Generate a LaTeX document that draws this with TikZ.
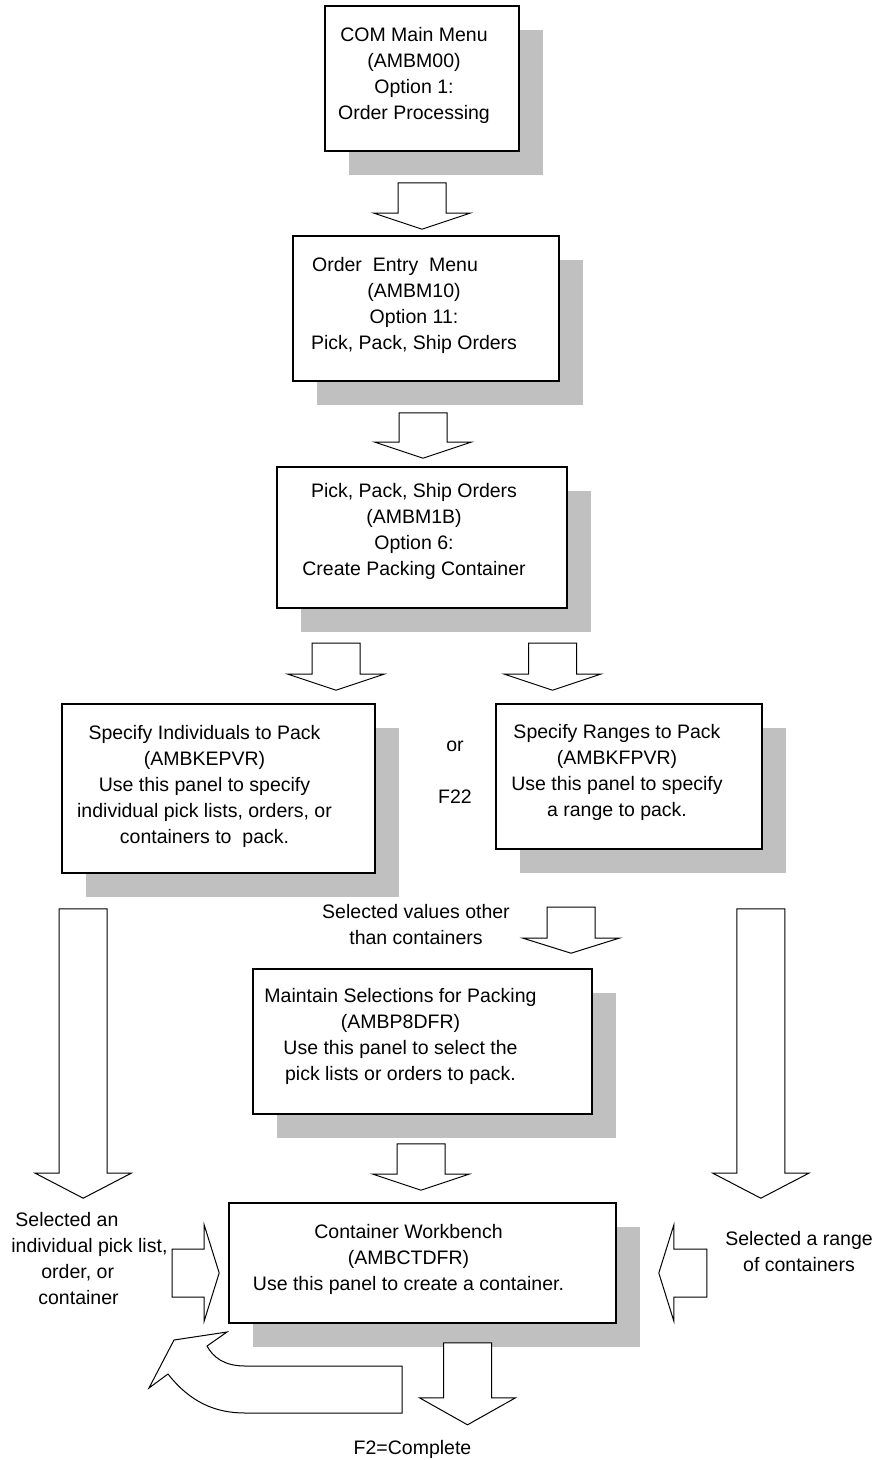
\documentclass[tikz,border=0pt]{standalone}
\usepackage{fontspec}
\setmainfont{Liberation Sans}
\usetikzlibrary{calc,shadows}
\definecolor{shadowgray}{RGB}{192,192,192}

\begin{document}
\begin{tikzpicture}[
        x=0.5pt, y=-0.5pt,
        font=\fontsize{9.75pt}{13pt}\selectfont,
        panel/.style={rectangle, draw, line width=0.8pt, fill=white,
          drop shadow={shadow xshift=12pt, shadow yshift=-12pt, fill=shadowgray, opacity=1}},
        note/.style={inner sep=0pt, align=center},
        blockarrow/.style={draw, fill=white, line width=0.5pt, to path={
          ($(\tikztostart)!12pt!90:(\tikztotarget)$)
          -- ($($(\tikztotarget)!#1!(\tikztostart)$)!12pt!90:(\tikztotarget)$)
          -- ($($(\tikztotarget)!#1!(\tikztostart)$)!24pt!90:(\tikztotarget)$)
          -- (\tikztotarget)
          -- ($($(\tikztotarget)!#1!(\tikztostart)$)!24pt!-90:(\tikztotarget)$)
          -- ($($(\tikztotarget)!#1!(\tikztostart)$)!12pt!-90:(\tikztotarget)$)
          -- ($(\tikztostart)!12pt!-90:(\tikztotarget)$)
          -- cycle}},
        blockarrow/.default=8pt,
      ]
      \useasboundingbox (0,0) rectangle (882,1460);

      % panels
      \node[panel, minimum width=97pt, minimum height=72.5pt] (menu) at (422,78.5)
        {\begin{tabular}{@{}c@{}}COM Main Menu\\(AMBM00)\\Option 1:\\Order Processing\\[3pt]\end{tabular}\hspace*{8pt}};
      \node[panel, minimum width=133pt, minimum height=72.5pt] (entry) at (426,308.5)
        {\begin{tabular}{@{}c@{}}Order\ \ Entry\ \ Menu\hspace*{19pt}\\(AMBM10)\\Option 11:\\Pick, Pack, Ship Orders\\[3pt]\end{tabular}\hspace*{12pt}};
      \node[panel, minimum width=145pt, minimum height=70.5pt] (pps) at (422,537.5)
        {\begin{tabular}{@{}c@{}}Pick, Pack, Ship Orders\\(AMBM1B)\\Option 6:\\Create Packing Container\\[6pt]\end{tabular}\hspace*{8pt}};
      \node[panel, minimum width=156.5pt, minimum height=84.5pt] (indiv) at (218.5,788.5)
        {\begin{tabular}{@{}c@{}}Specify Individuals to Pack\\(AMBKEPVR)\\Use this panel to specify\\individual pick lists, orders, or\\containers to\ \ pack.\\[2pt]\end{tabular}\hspace*{14pt}};
      \node[panel, minimum width=133pt, minimum height=72.5pt] (ranges) at (629,776.5)
        {\begin{tabular}{@{}c@{}}Specify Ranges to Pack\\(AMBKFPVR)\\Use this panel to specify\\a range to pack.\\[4pt]\end{tabular}\hspace*{12pt}};
      \node[panel, minimum width=169.5pt, minimum height=72.5pt] (select) at (422.5,1041.5)
        {\begin{tabular}{@{}c@{}}Maintain Selections for Packing\\(AMBP8DFR)\\Use this panel to select the\\pick lists or orders to pack.\\[5pt]\end{tabular}\hspace*{22pt}};
      \node[panel, minimum width=193.5pt, minimum height=60pt] (bench) at (422.5,1263)
        {\begin{tabular}{@{}c@{}}Container Workbench\\(AMBCTDFR)\\Use this panel to create a container.\\[4pt]\end{tabular}\hspace*{14pt}};

      % labels
      \node[note] (or) at (455,746) {or};
      \node[note] (f22) at (455,797) {F22};
      \node[note] (values) at (416,925) {Selected values other\\than containers};
      \node[note, anchor=west, align=left] (pickone) at (11,1258.5)
        {\hspace*{2pt}Selected an\\individual pick list,\\\hspace*{15pt}order, or\\\hspace*{13.5pt}container};
      \node[note] (pickrange) at (799,1252) {Selected a range\\of containers};
      \node[note] (complete) at (412.5,1449) {F2=Complete};

      % block arrows
      \draw[blockarrow] ($(menu.south)+(0,31)$) to ($(menu.south |- entry.north)+(0,-6)$);
      \draw[blockarrow] ($(pps.north |- entry.south)+(1,31)$) to ($(pps.north)+(1,-8)$);
      \draw[blockarrow] ($(indiv.north)+(117.5,-60)$) to ($(indiv.north)+(117.5,-13)$);
      \draw[blockarrow] ($(ranges.north)+(-76.5,-60)$) to ($(ranges.north)+(-76.5,-13)$);
      \draw[blockarrow=12.5pt] ($(indiv.south west)+(22,35)$) to ($(indiv.south west |- bench.north)+(22,-4)$);
      \draw[blockarrow=12.5pt] ($(ranges.south east)+(-2,59)$) to ($(ranges.south east |- bench.north)+(-2,-4)$);
      \draw[blockarrow=7.5pt] ($(select.north)+(148.5,-61)$) to ($(select.north)+(148.5,-15)$);
      \draw[blockarrow] ($(select.south)+(-1.5,29)$) to ($(bench.north)+(-1.5,-12)$);
      \draw[blockarrow=7.5pt] ($(bench.west)+(-56,10)$) to ($(bench.west)+(-9,10)$);
      \draw[blockarrow=7.5pt] ($(bench.east)+(90,10)$) to ($(bench.east)+(42,10)$);
      \draw[blockarrow=13.5pt] ($(bench.south)+(45,19)$) to ($(bench.south)+(45,101)$);

      % curved return arrow
      \draw[line width=0.5pt, fill=white] (402,1366) -- (245,1366)
        .. controls (224,1366) and (213,1357) .. (207,1346)
        -- (227,1332) -- (174,1340) -- (149,1388) -- (168,1374)
        .. controls (190,1402) and (215,1413) .. (245,1413)
        -- (402,1413) -- cycle;
\end{tikzpicture}
\end{document}
